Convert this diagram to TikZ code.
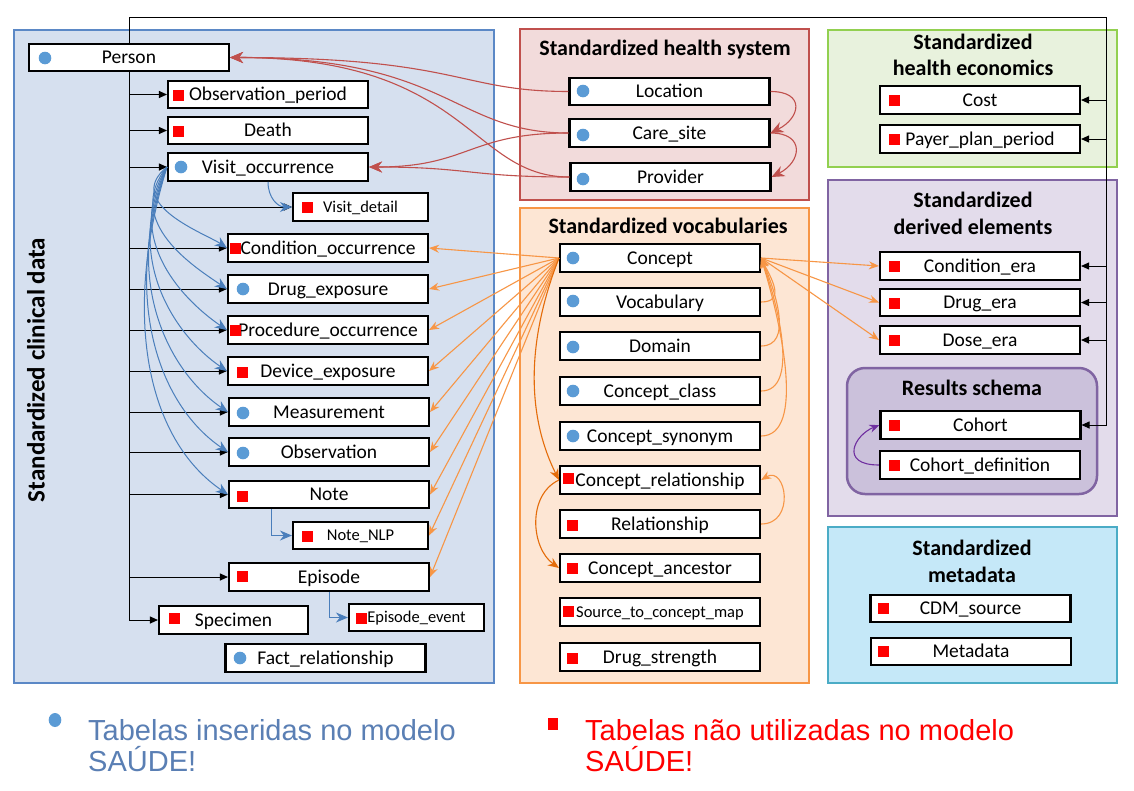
\documentclass[tikz,border=0pt]{standalone}
\usepackage{fontspec}
\setmainfont{Carlito}
\newfontfamily\legendfont{Liberation Sans}
\usetikzlibrary{arrows.meta}
\definecolor{clinFill}{HTML}{D6E0EF}
\definecolor{clinLine}{HTML}{5B88C6}
\definecolor{hsFill}{HTML}{F2DBDB}
\definecolor{hsLine}{HTML}{C0504D}
\definecolor{vocFill}{HTML}{FDE6D4}
\definecolor{vocLine}{HTML}{F79646}
\definecolor{ecoFill}{HTML}{E8F2DD}
\definecolor{ecoLine}{HTML}{92D050}
\definecolor{derFill}{HTML}{E3DCEB}
\definecolor{derLine}{HTML}{8064A2}
\definecolor{resFill}{HTML}{CBC1DB}
\definecolor{metaFill}{HTML}{C5E8F8}
\definecolor{metaLine}{HTML}{4BACC6}
\definecolor{mblue}{HTML}{5B9BD5}
\definecolor{mred}{HTML}{FF0000}
\definecolor{legBlue}{HTML}{5A7FB4}
\definecolor{conRed}{HTML}{C0504D}
\definecolor{conBlue}{HTML}{4A7EBB}
\definecolor{conOr}{HTML}{F79646}
\definecolor{conOrD}{HTML}{E46C0A}
\definecolor{conPur}{HTML}{7030A0}
\newcommand\mkdot[2]{\fill[mblue] (#1,#2) circle (6.3);}
\newcommand\mksq[2]{\fill[mred] ({#1-5.5},{#2-5.5}) rectangle ++(11,11);}
\begin{document}
\begin{tikzpicture}[x=1pt,y=-1pt,
  tbl/.style={draw=black, line width=2.4pt, fill=white, minimum width=199.7pt, minimum height=27.5pt,
    inner sep=0pt, text height=16pt, text depth=4pt, font=\fontsize{19.5}{23}\selectfont},
  smalltbl/.style={tbl, minimum width=134.7pt, text height=14pt, text depth=3.6pt, font=\fontsize{16.5}{20}\selectfont},
  frame/.style={line width=2.5pt},
  ttl/.style={font=\bfseries\fontsize{22}{26}\selectfont, anchor=base, inner sep=0pt},
  blk/.style={draw=black, line width=1pt, -{Triangle[length=8pt,width=7pt]}},
  redc/.style={draw=conRed, line width=1.1pt, -{Stealth[length=13pt,width=11pt]}},
  bluec/.style={draw=conBlue, line width=1pt, -{Stealth[length=12pt,width=10pt]}},
  orc/.style={draw=conOr, line width=1.1pt, -{Stealth[length=10pt,width=8pt]}},
  orcd/.style={draw=conOrD, line width=1.1pt, -{Stealth[length=11pt,width=9pt]}},
  purc/.style={draw=conPur, line width=1.1pt, -{Stealth[length=10pt,width=8pt]}},
  legtxt/.style={font=\legendfont\fontsize{29}{33}\selectfont, anchor=base west, inner sep=0pt}
]
\useasboundingbox (0,0) rectangle (1134,790);
\fill[white] (0,0) rectangle (1134,790);

% frames
\draw[frame, draw=clinLine, fill=clinFill] (14,30) rectangle (494,683);
\draw[frame, draw=hsLine, fill=hsFill] (520,29) rectangle (809,200);
\draw[frame, draw=vocLine, fill=vocFill] (520,208) rectangle (809,683);
\draw[frame, draw=ecoLine, fill=ecoFill] (828,30) rectangle (1117,167);
\draw[frame, draw=derLine, fill=derFill] (828,180) rectangle (1117,516);
\draw[frame, draw=derLine, fill=resFill, rounded corners=18pt] (847,368) rectangle (1097,494);
\draw[frame, draw=metaLine, fill=metaFill] (828,527) rectangle (1117,683);

% titles
\node[rotate=90, font=\bfseries\fontsize{25}{29}\selectfont, inner sep=0pt] (tclin) at (36,370) {Standardized clinical data};
\node[ttl] (ths) at (665,55) {Standardized health system};
\node[ttl] (tvoc) at (668,233) {Standardized vocabularies};
\node[ttl] (teco1) at (973,49) {Standardized};
\node[ttl] (teco2) at (973,75) {health economics};
\node[ttl] (tder1) at (973,207) {Standardized};
\node[ttl] (tder2) at (973,234) {derived elements};
\node[ttl] (tres) at (972,395) {Results schema};
\node[ttl] (tmeta1) at (972,555) {Standardized};
\node[ttl] (tmeta2) at (972,582) {metadata};

% clinical tables
\node[tbl] (person) at (129,57.5) {Person};
\node[tbl] (obsp) at (268,94.5) {Observation\_period};
\node[tbl] (death) at (268,130.5) {Death};
\node[tbl] (visit) at (268,167) {Visit\_occurrence};
\node[smalltbl] (vdet) at (360.5,207) {Visit\_detail};
\node[tbl] (cond) at (328,248) {Condition\_occurrence};
\node[tbl] (drug) at (328,289) {Drug\_exposure};
\node[tbl] (proc) at (328,330) {Procedure\_occurrence};
\node[tbl] (dev) at (328,371) {Device\_exposure};
\node[tbl] (meas) at (329,412) {Measurement};
\node[tbl] (obs) at (329,452) {Observation};
\node[tbl] (note) at (329,494.5) {Note};
\node[smalltbl] (nlp) at (360.5,535.5) {Note\_NLP};
\node[tbl] (epi) at (329,577) {Episode};
\node[tbl, minimum width=148.7pt] (spec) at (233.5,620) {Specimen};
\node[smalltbl] (epev) at (416.5,617.5) {Episode\_event};
\node[tbl] (fact) at (325.5,658) {Fact\_relationship};

% health system
\node[tbl] (loc) at (669.5,91.5) {Location};
\node[tbl] (care) at (669.5,133) {Care\_site};
\node[tbl] (prov) at (670.5,177) {Provider};

% vocabularies
\node[tbl] (concept) at (660,258) {Concept};
\node[tbl] (vocab) at (660,302) {Vocabulary};
\node[tbl] (domain) at (660,346) {Domain};
\node[tbl] (cclass) at (660,391) {Concept\_class};
\node[tbl] (csyn) at (660,436) {Concept\_synonym};
\node[tbl] (crel) at (660,480) {Concept\_relationship};
\node[tbl] (rel) at (660,524) {Relationship};
\node[tbl] (canc) at (660,568) {Concept\_ancestor};
\node[smalltbl, minimum width=199.7pt] (stcm) at (660,612) {Source\_to\_concept\_map};
\node[tbl] (dstr) at (660,657) {Drug\_strength};

% right side
\node[tbl] (cost) at (980,100) {Cost};
\node[tbl] (ppp) at (980,139) {Payer\_plan\_period};
\node[tbl] (cera) at (980,266) {Condition\_era};
\node[tbl] (dera) at (980,302.5) {Drug\_era};
\node[tbl] (dose) at (980,340) {Dose\_era};
\node[tbl] (cohort) at (980.5,425) {Cohort};
\node[tbl] (cohdef) at (980,465) {Cohort\_definition};
\node[tbl] (cdm) at (970.5,608.5) {CDM\_source};
\node[tbl] (meta) at (971,651.5) {Metadata};

% markers
\mkdot{45}{58}
\mksq{178}{95.5}
\mksq{178}{131}
\mkdot{181}{167}
\mksq{307}{207}
\mksq{235}{248}
\mkdot{243}{289}
\mksq{235}{330.5}
\mksq{242}{372}
\mkdot{243}{413}
\mkdot{243}{453}
\mksq{242}{496}
\mksq{307}{536}
\mksq{242}{576}
\mksq{174}{618}
\mksq{361}{618}
\mkdot{240}{658}
\mkdot{583}{91}
\mkdot{583}{135}
\mkdot{583}{179}
\mkdot{573}{258}
\mkdot{573}{301}
\mkdot{573}{347}
\mkdot{573}{391}
\mkdot{573}{436}
\mksq{568}{478}
\mksq{572}{525}
\mksq{572}{568}
\mksq{568}{611}
\mksq{572}{658}
\mksq{894}{100}
\mksq{894}{139}
\mksq{894}{266}
\mksq{894}{303}
\mksq{894}{340}
\mksq{894}{425}
\mksq{894}{465}
\mksq{883}{608}
\mksq{883}{651}

% black connectors
\coordinate (topR) at (1106,17);
\foreach \n in {obsp,death,visit,vdet,cond,drug,proc,dev,meas,obs,note,epi,spec}
  \draw[blk] (person.south) |- (\n.west);
\draw[blk] (person.north) |- (topR) |- (cohort.east);
\foreach \n in {cost,ppp,cera,dera,dose}
  \draw[blk] (topR |- \n.east) -- (\n.east);

% blue connectors
\foreach \n/\d in {cond/81,drug/122,proc/163,dev/204,meas/245,obs/285,note/327}
  \draw[bluec] (visit.west) .. controls +(-45,{0.45*\d}) and +({-0.25*\d},{-0.17*\d}) .. (\n.west);
\draw[bluec] (visit.south) .. controls +(0,16) and +(-14,0) .. (vdet.west);
\draw[bluec] ([xshift=-58pt]note.south) |- (nlp.west);
\draw[bluec] (epi.south) |- (epev.west);

% red connectors
\draw[redc] (loc.west) .. controls +(-110,0) and +(230,0) .. (person.east);
\draw[redc] (care.west) .. controls +(-115,0) and +(220,0) .. (person.east);
\draw[redc] (prov.west) .. controls +(-100,0) and +(240,0) .. (person.east);
\draw[redc] (care.west) .. controls +(-100,0) and +(100,0) .. (visit.east);
\draw[redc] (prov.west) .. controls +(-100,0) and +(100,0) .. (visit.east);
\draw[redc] (loc.east) .. controls +(35,0) and +(30,-15) .. (care.east);
\draw[redc] (care.east) .. controls +(35,0) and +(30,-15) .. (prov.east);

% orange connectors
\foreach \n in {cond,drug,proc,dev,meas,obs,note,nlp,epi}
  \draw[orc] (concept.west) -- (\n.east);
\foreach \n in {cera,dera,dose}
  \draw[orc] (concept.east) -- (\n.west);
\draw[orc] (vocab.east) .. controls +(25,0) and +(10,20) .. (concept.east);
\draw[orc] (domain.east) .. controls +(32,0) and +(15,35) .. (concept.east);
\draw[orc] (cclass.east) .. controls +(38,0) and +(18,50) .. (concept.east);
\draw[orc] (csyn.east) .. controls +(45,0) and +(20,65) .. (concept.east);
\draw[orc] (rel.east) .. controls +(35,0) and +(25,-15) .. (crel.east);
\draw[orcd] (concept.west) .. controls +(-35,90) and +(-30,-60) .. (crel.west);
\draw[orcd] (crel.west) .. controls +(-32,15) and +(-28,-20) .. (canc.west);

% purple connector
\draw[purc] (cohdef.west) .. controls +(-40,0) and +(-25,10) .. (cohort.west);

% legend
\fill[mblue] (55,720) ellipse (6.3 and 7);
\node[legtxt, text=legBlue] (lb1) at (88,740) {Tabelas inseridas no modelo};
\node[legtxt, text=legBlue] (lb2) at (88,771) {SAÚDE!};
\fill[mred] (548,718) rectangle (558,730);
\node[legtxt, text=mred] (lr1) at (585,740) {Tabelas não utilizadas no modelo};
\node[legtxt, text=mred] (lr2) at (585,771) {SAÚDE!};
\end{tikzpicture}
\end{document}
